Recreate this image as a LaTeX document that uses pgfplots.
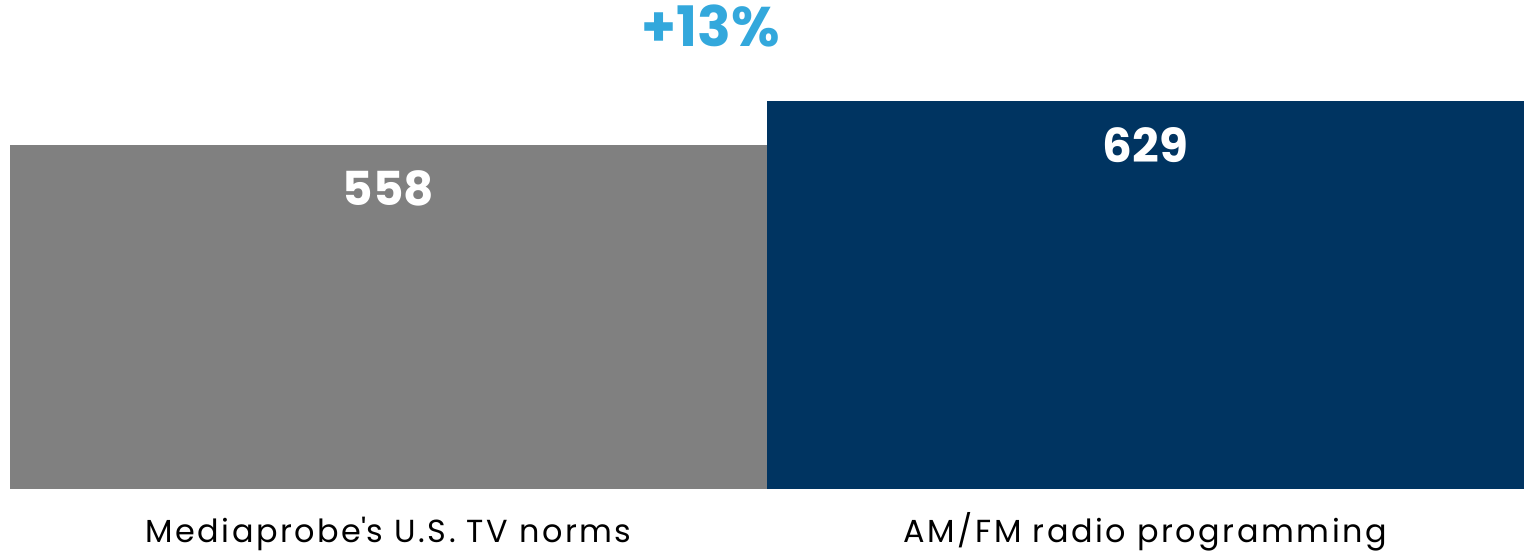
\documentclass[border=0pt]{standalone}
\usepackage{pgfplots}
\pgfplotsset{compat=1.18}
\usepackage{fontspec}
\setmainfont{Poppins}
\definecolor{bargray}{HTML}{808080}
\definecolor{barnavy}{HTML}{003461}
\definecolor{accblue}{HTML}{33A8DC}
\begin{document}
\begin{tikzpicture}
\path[use as bounding box] (-5bp,-34bp) rectangle (757bp,244.5bp);
\begin{axis}[
  at={(0,0)}, anchor=south west,
  scale only axis,
  width=757bp, height=244.5bp,
  xmin=-0.5, xmax=1.5,
  ymin=0, ymax=793,
  axis lines=none,
  clip=false,
  ybar, bar width=378.5bp,
  /pgf/number format/assume math mode=true,
  nodes near coords={\pgfmathprintnumber{\pgfplotspointmeta}},
  every node near coord/.style={anchor=north, yshift=-9.5bp, font=\fontsize{23.5}{26}\selectfont\bfseries, text=white},
]
\addplot[fill=bargray, draw=none, bar shift=0pt] coordinates {(0,558)};
\addplot[fill=barnavy, draw=none, bar shift=0pt] coordinates {(1,629)};
\node[font=\fontsize{16}{18}\selectfont\addfontfeatures{LetterSpace=8}, anchor=base] at (axis cs:0,-86) {Mediaprobe\textquotesingle s U.S. TV norms};
\node[font=\fontsize{16}{18}\selectfont\addfontfeatures{LetterSpace=8}, anchor=base] at (axis cs:1,-86) {AM/FM radio programming};
\node[font=\fontsize{28}{30}\selectfont\bfseries, text=accblue, anchor=center] at (axis cs:0.426,751) {+13\%};
\end{axis}
\end{tikzpicture}
\end{document}
